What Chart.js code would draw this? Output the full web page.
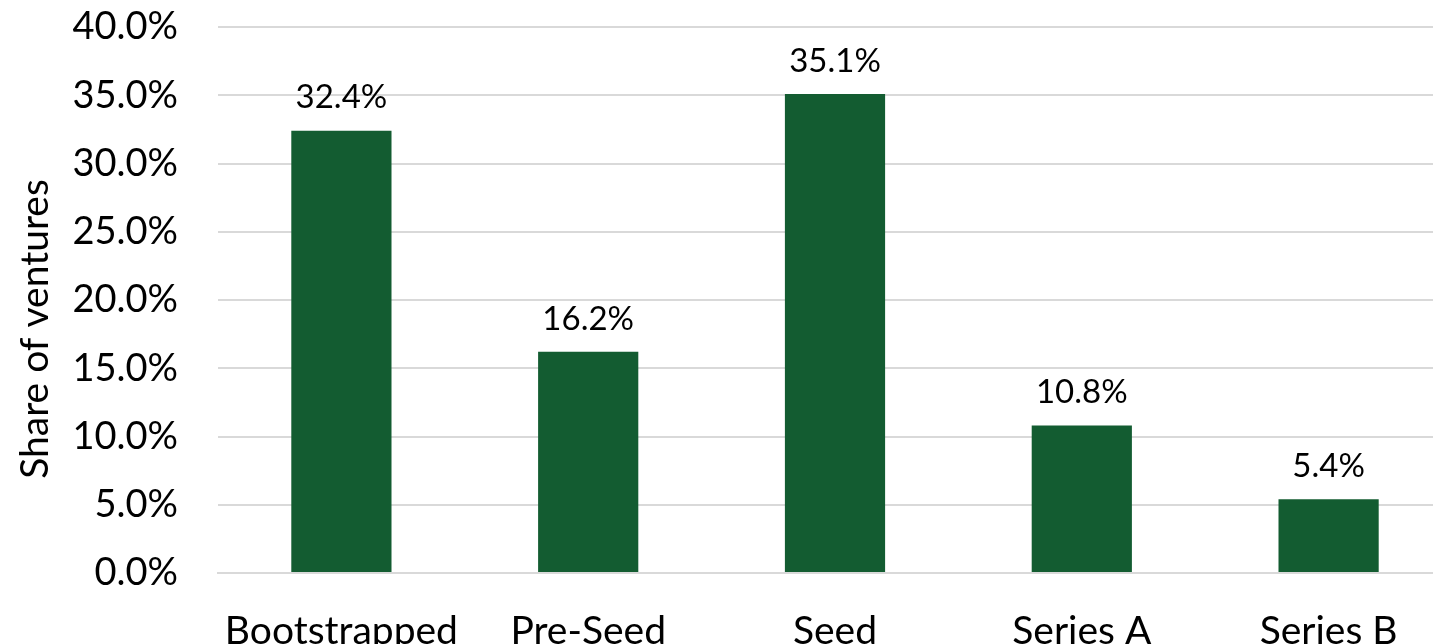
<!DOCTYPE html>
<html>
<head>
<meta charset="utf-8">
<script src="https://cdn.jsdelivr.net/npm/chart.js@4"></script>
<style>
  html, body { margin: 0; padding: 0; background: #fff; overflow: hidden; }
  #wrap { width: 1452px; height: 690px; position: relative; }
</style>
</head>
<body>
<div id="wrap"><canvas id="fundingChart"></canvas></div>
<script>
// --- Data ---
const STAGES = ["Bootstrapped", "Pre-Seed", "Seed", "Series A", "Series B"];
const SHARE = [32.4, 16.2, 35.1, 10.8, 5.4];
const Y_TICKS = [0, 5, 10, 15, 20, 25, 30, 35, 40];
const Y_TITLE = 'Share of ventures';

const FONT = "Lato, 'Open Sans', sans-serif";
const BAR_GREEN = '#135C31';

// draws the value above each bar
const valueLabels = {
    id: 'valueLabels',
    afterDatasetsDraw(chart) {
        const ctx = chart.ctx;
        const meta = chart.getDatasetMeta(0);
        ctx.save();
        ctx.font = '33px ' + FONT;
        ctx.fillStyle = '#000';
        ctx.textAlign = 'center';
        ctx.textBaseline = 'middle';
        meta.data.forEach((bar, i) => {
            ctx.fillText(SHARE[i].toFixed(1) + '%', bar.x, bar.y - 33);
        });
        ctx.restore();
    }
};

// y axis title, sits a bit below the middle of the plot like the original
const yTitle = {
    id: 'yTitle',
    afterDraw(chart) {
        const ctx = chart.ctx;
        const area = chart.chartArea;
        ctx.save();
        ctx.translate(35, (area.top + area.bottom) / 2 + 29);
        ctx.rotate(-Math.PI / 2);
        ctx.font = '39px ' + FONT;
        ctx.fillStyle = '#000';
        ctx.textAlign = 'center';
        ctx.textBaseline = 'middle';
        ctx.fillText(Y_TITLE, 0, 0);
        ctx.restore();
    }
};

const ctx = document.getElementById('fundingChart').getContext('2d');
new Chart(ctx, {
    type: 'bar',
    data: {
        labels: STAGES,
        datasets: [{
            data: SHARE,
            backgroundColor: BAR_GREEN,
            categoryPercentage: 1,
            barPercentage: 0.406
        }]
    },
    options: {
        responsive: true,
        maintainAspectRatio: false,
        animation: false,
        layout: { padding: { top: 27, left: 0, right: 0, bottom: 0 } },
        plugins: { legend: { display: false }, tooltip: { enabled: false } },
        scales: {
            x: {
                afterFit(scale) { scale.height = 117; scale.paddingLeft = 0; scale.paddingRight = 0; },
                grid: { display: false },
                border: { color: '#d9d9d9', width: 2 },
                ticks: { color: '#000', font: { family: FONT, size: 39 }, padding: 27, maxRotation: 0 }
            },
            y: {
                min: 0,
                max: 40,
                afterFit(scale) { scale.width = 218; scale.paddingTop = 0; scale.paddingBottom = 0; },
                afterBuildTicks(axis) { axis.ticks = Y_TICKS.map(v => ({ value: v })); },
                grid: { color: '#d9d9d9', lineWidth: 2, drawTicks: false },
                border: { display: false },
                ticks: {
                    color: '#000',
                    font: { family: FONT, size: 38 },
                    padding: 40,
                    callback: v => v.toFixed(1) + '%'
                }
            }
        }
    },
    plugins: [valueLabels, yTitle]
});
</script>
</body>
</html>
